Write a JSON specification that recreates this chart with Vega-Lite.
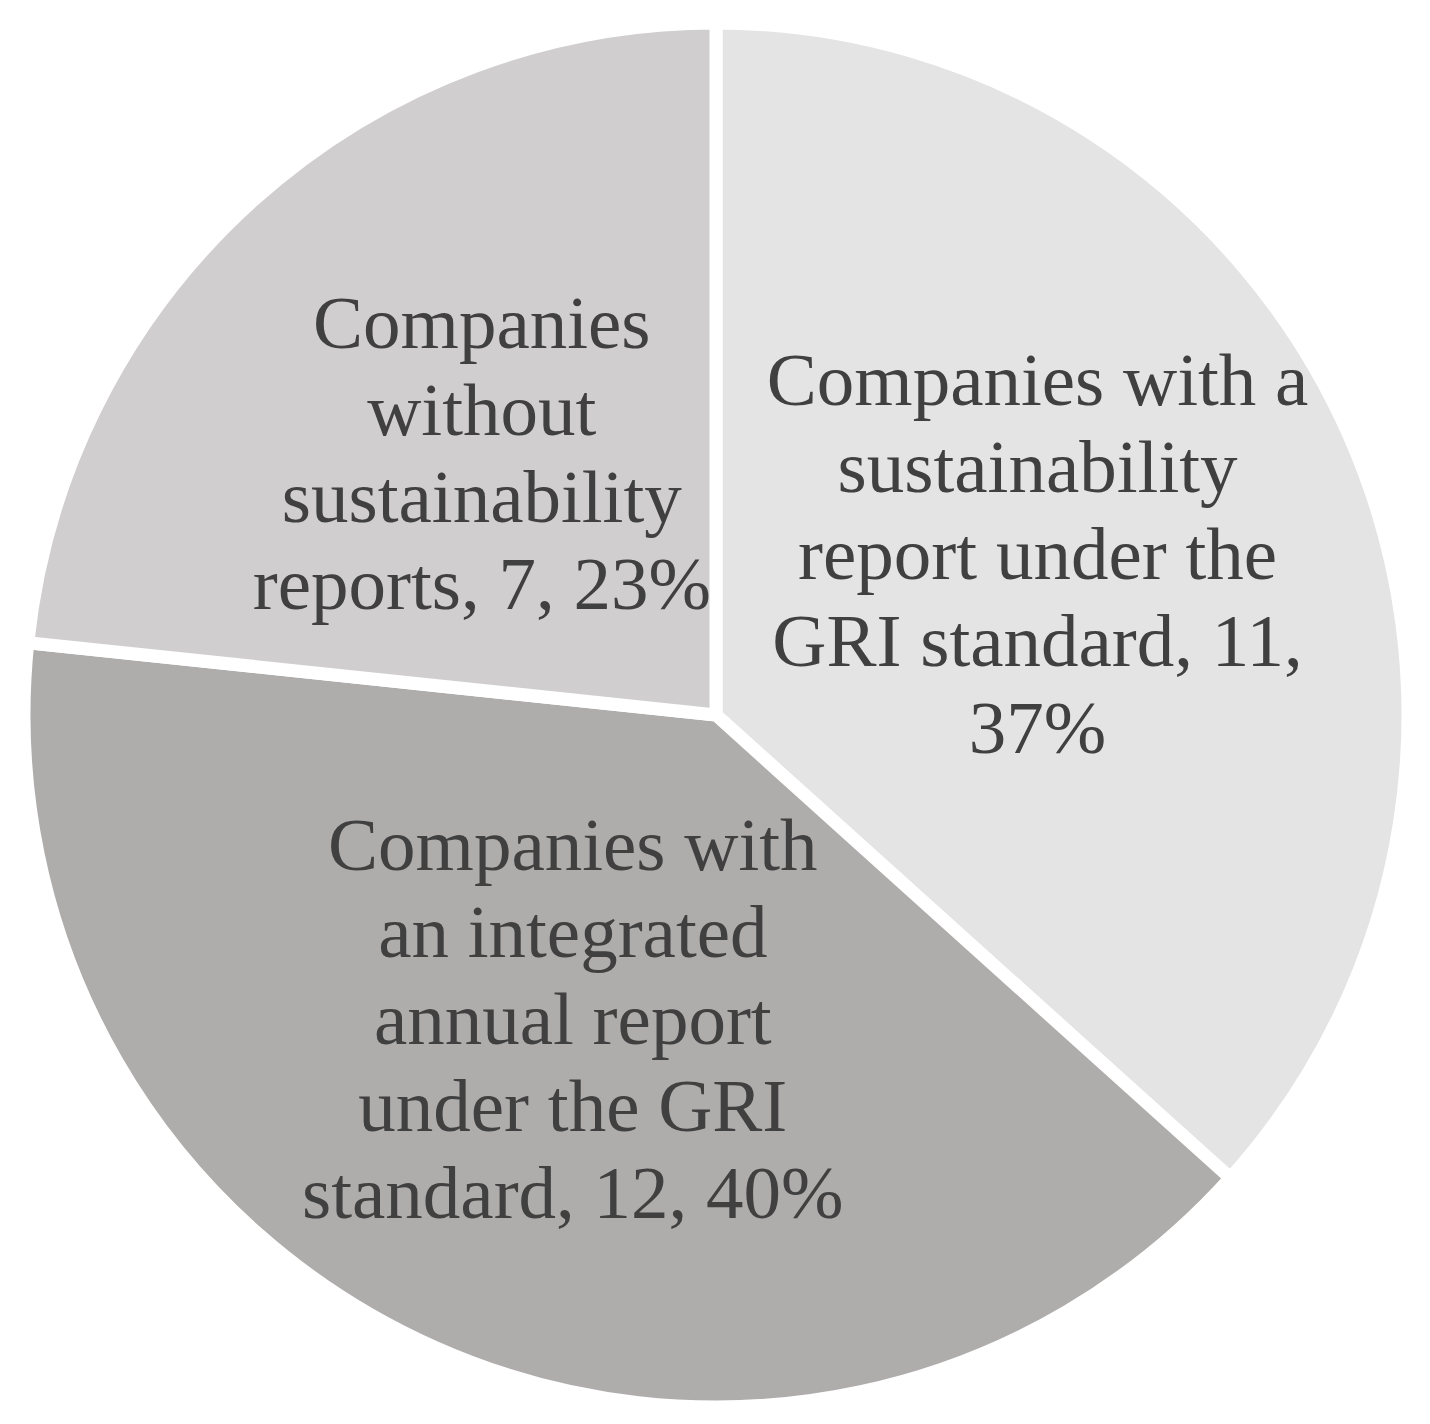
{
  "$schema": "https://vega.github.io/schema/vega-lite/v6.json",
  "autosize": {"type": "fit", "contains": "padding"},
  "width": 1430,
  "height": 1424,
  "padding": {"left": 2, "top": 6, "right": 0, "bottom": 0},
  "background": "white",
  "config": {"view": {"stroke": null}},
  "data": {
    "values": [
      {"order": 1, "category": "Companies with a sustainability report under the GRI standard", "label": ["Companies with a", "sustainability", "report under the", "GRI standard, 11,", "37%"], "lines": 5, "count": 11},
      {"order": 2, "category": "Companies with an integrated annual report under the GRI standard", "label": ["Companies with", "an integrated", "annual report", "under the GRI", "standard, 12, 40%"], "lines": 5, "count": 12},
      {"order": 3, "category": "Companies without sustainability reports", "label": ["Companies", "without", "sustainability", "reports, 7, 23%"], "lines": 4, "count": 7}
    ]
  },
  "encoding": {
    "theta": {"field": "count", "type": "quantitative", "stack": true},
    "order": {"field": "order", "type": "quantitative"}
  },
  "layer": [
    {
      "mark": {"type": "arc", "outerRadius": 692, "stroke": "white", "strokeWidth": 13, "strokeJoin": "miter"},
      "encoding": {
        "color": {
          "field": "category", "type": "nominal", "legend": null,
          "scale": {
            "domain": ["Companies with a sustainability report under the GRI standard", "Companies with an integrated annual report under the GRI standard", "Companies without sustainability reports"],
            "range": ["#e4e4e4", "#afacac", "#d0cecf"]
          }
        }
      }
    },
    {
      "mark": {"type": "text", "radius": 352, "dy": -190, "font": "Liberation Serif", "fontSize": 75, "lineHeight": 87, "color": "#404040", "align": "center", "baseline": "middle"},
      "encoding": {
        "text": {"condition": {"test": "datum.lines == 5", "field": "label"}, "value": ""}
      }
    },
    {
      "mark": {"type": "text", "radius": 350, "dy": -130, "font": "Liberation Serif", "fontSize": 75, "lineHeight": 87, "color": "#404040", "align": "center", "baseline": "middle"},
      "encoding": {
        "text": {"condition": {"test": "datum.lines == 4", "field": "label"}, "value": ""}
      }
    }
  ]
}
